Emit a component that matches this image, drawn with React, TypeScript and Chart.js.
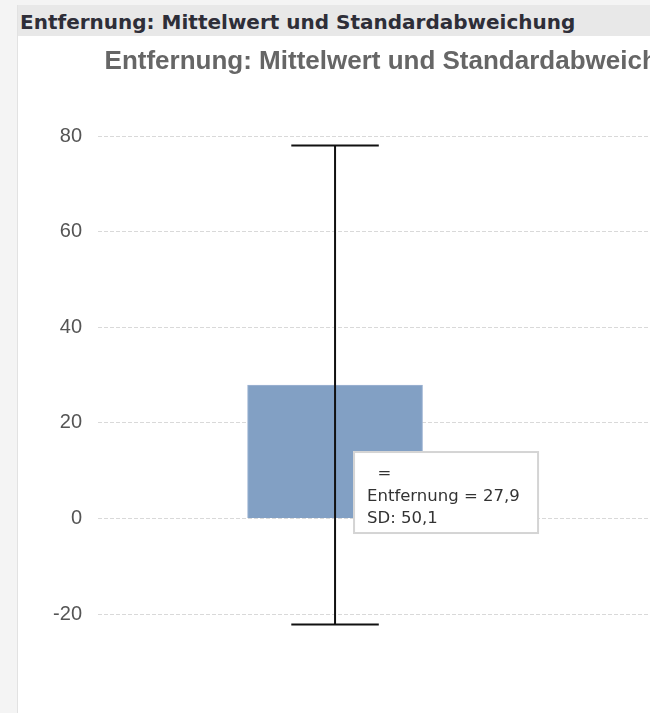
import React, { useEffect, useRef } from "react";
import { Chart, registerables } from "chart.js";

Chart.register(...registerables);

// ---- data ----
const headerText = "Entfernung: Mittelwert und Standardabweichung";
const chartTitle = "Entfernung: Mittelwert und Standardabweichung";
const seriesName = "Entfernung";
const categories = [""];
const categoryPositions = [0];
const means = [27.9];
const stdDevs = [50.1];
const yTicks = [-20, 0, 20, 40, 60, 80];

const fmt = (v: number) => v.toFixed(1).replace(".", ",");

const errorBarPlugin = {
  id: "errorBars",
  afterDatasetsDraw(chart: any) {
    const meta = chart.getDatasetMeta(0);
    const y = chart.scales.y;
    const ctx = chart.ctx;
    ctx.save();
    ctx.strokeStyle = "#111111";
    ctx.lineWidth = 2;
    meta.data.forEach((bar: any, i: number) => {
      const top = y.getPixelForValue(means[i] + stdDevs[i]);
      const bot = y.getPixelForValue(means[i] - stdDevs[i]);
      const half = bar.width / 4;
      ctx.beginPath();
      ctx.moveTo(bar.x, top);
      ctx.lineTo(bar.x, bot);
      ctx.moveTo(bar.x - half, top);
      ctx.lineTo(bar.x + half, top);
      ctx.moveTo(bar.x - half, bot);
      ctx.lineTo(bar.x + half, bot);
      ctx.stroke();
    });
    ctx.restore();
  },
};

const staticTooltipPlugin = {
  id: "staticTooltip",
  afterDraw(chart: any) {
    const meta = chart.getDatasetMeta(0);
    const ctx = chart.ctx;
    const bar = meta.data[0];
    if (!bar) return;
    const bx = bar.x + 18;
    const by = bar.y + 66;
    const bw = 186;
    const bh = 83;
    ctx.save();
    ctx.fillStyle = "#ffffff";
    ctx.fillRect(bx, by, bw, bh);
    ctx.strokeStyle = "#d4d4d4";
    ctx.lineWidth = 2;
    ctx.strokeRect(bx + 1, by + 1, bw - 2, bh - 2);
    ctx.fillStyle = "#333333";
    ctx.font = '16.5px "DejaVu Sans", sans-serif';
    ctx.textBaseline = "alphabetic";
    ctx.textAlign = "left";
    const lines = [
      `${categories[0]}  =`,
      `${seriesName} = ${fmt(means[0])}`,
      `SD: ${fmt(stdDevs[0])}`,
    ];
    ctx.fillText(lines[0], bx + 14, by + 27);
    ctx.fillText(lines[1], bx + 14, by + 49.5);
    ctx.fillText(lines[2], bx + 14, by + 72);
    ctx.restore();
  },
};

function MeanSdChart() {
  const ref = useRef<HTMLCanvasElement | null>(null);
  useEffect(() => {
    if (!ref.current) return;
    Chart.defaults.font.family = "'Liberation Sans', Arial, sans-serif";
    const chart = new Chart(ref.current, {
      type: "bar",
      data: {
        datasets: [
          {
            label: seriesName,
            data: categoryPositions.map((x, i) => ({ x, y: means[i] })),
            backgroundColor: "#82a0c4",
            borderColor: "#9fb4d3",
            borderWidth: 1,
            barThickness: 175,
          },
        ],
      },
      options: {
        responsive: false,
        animation: false,
        events: [],
        layout: { padding: { left: 35, right: 8, top: 0, bottom: 99 } },
        scales: {
          x: {
            type: "linear",
            min: -0.5,
            max: 0.89,
            offset: false,
            display: false,
          },
          y: {
            min: yTicks[0],
            max: yTicks[yTicks.length - 1],
            afterBuildTicks: (axis: any) => {
              axis.ticks = yTicks.map((v) => ({ value: v }));
            },
            afterFit: (axis: any) => {
              axis.width = 45;
            },
            ticks: {
              color: "#555555",
              padding: 16,
              font: { size: 20, family: "'Liberation Sans', Arial, sans-serif" },
            },
            grid: { color: "#d9d9d9", lineWidth: 1, drawTicks: false },
            border: { display: false, dash: [4, 2] },
          },
        },
        plugins: {
          legend: { display: false },
          tooltip: { enabled: false },
          title: {
            display: true,
            text: chartTitle,
            color: "#666666",
            font: { size: 26, weight: "bold", family: "'Liberation Sans', Arial, sans-serif" },
            padding: { top: 10, bottom: 58.8 },
          },
        },
      },
      plugins: [errorBarPlugin, staticTooltipPlugin],
    } as any);
    return () => chart.destroy();
  }, []);
  return <canvas ref={ref} width={747} height={677} style={{ width: 747, height: 677, display: "block" }} />;
}

export default function App() {
  return (
    <div
      style={{
        position: "fixed",
        left: 0,
        top: 0,
        width: 668,
        height: 713,
        background: "#ffffff",
        overflow: "hidden",
      }}
    >
      <div style={{ position: "absolute", left: 0, top: 0, width: 650, height: 713, background: "#f4f4f4" }} />
      <div
        style={{
          position: "absolute",
          left: 17,
          top: 5,
          width: 633,
          height: 708,
          borderLeft: "1px solid #e2e2e2",
          boxSizing: "border-box",
          background: "#ffffff",
        }}
      >
        <div
          style={{
            height: 31,
            boxSizing: "border-box",
            paddingTop: 3,
            paddingLeft: 2,
            lineHeight: "28px",
            background: "#e8e8e8",
            fontFamily: "'DejaVu Sans', sans-serif",
            fontWeight: "bold",
            fontSize: 20,
            color: "#2e2e38",
            whiteSpace: "nowrap",
            overflow: "hidden",
          }}
        >
          {headerText}
        </div>
      </div>
      <div style={{ position: "absolute", left: 18, top: 36, width: 632, height: 677, overflow: "hidden" }}>
        <MeanSdChart />
      </div>
    </div>
  );
}
